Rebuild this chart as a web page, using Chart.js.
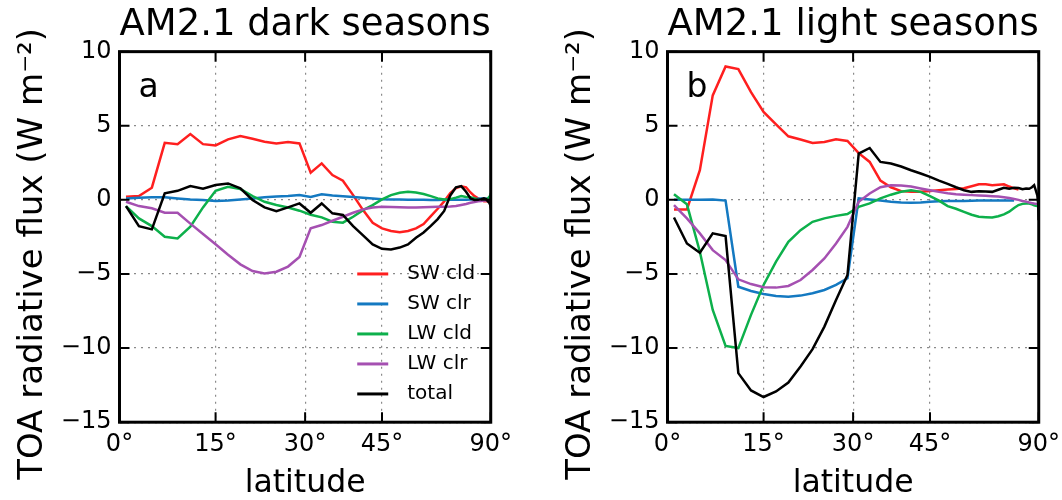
<!DOCTYPE html>
<html>
<head>
<meta charset="utf-8">
<script src="https://cdn.jsdelivr.net/npm/chart.js@4.4.1/dist/chart.umd.min.js"></script>
<style>
    html, body { margin: 0; padding: 0; background: #fff; overflow: hidden; }
    body { width: 1062px; height: 500px; position: relative; }
    .panel { position: absolute; top: 0; width: 520px; height: 500px; }
</style>
</head>
<body>
<div class="panel" style="left: 0px"><canvas id="grafica-oscuro"></canvas></div>
<div class="panel" style="left: 548px"><canvas id="grafica-claro"></canvas></div>
<script>
// Centros de latitud (rejilla de 2 grados)
const latitudes = [1, 3, 5, 7, 9, 11, 13, 15, 17, 19, 21, 23, 25, 27, 29, 31, 33, 35, 37, 39, 41, 43, 45,
    47, 49, 51, 53, 55, 57, 59, 61, 63, 65, 67, 69, 71, 73, 75, 77, 79, 81, 83, 85, 87, 89]

// Temporadas oscuras
const oscuroSWcld = [0.21, 0.26, 0.82, 3.85, 3.76, 4.44, 3.76, 3.67, 4.08, 4.3, 4.12, 3.92, 3.81, 3.9, 3.81,
    1.83, 2.46, 1.67, 1.29, 0.32, -0.69, -1.54, -1.92, -2.1, -2.19, -2.1, -1.92, -1.63, -1.1, -0.6,
    -0.1, 0.45, 0.8, 0.92, 0.85, 0.5, 0.25, 0.1, 0.0, -0.1, -0.1, -0.1, -0.1, -0.1, -0.2]
const oscuroSWclr = [0.1, 0.14, 0.17, 0.17, 0.1, 0.03, -0.01, -0.08, -0.05, 0.03, 0.1, 0.17, 0.22, 0.26, 0.32,
    0.2, 0.38, 0.3, 0.25, 0.2, 0.15, 0.1, 0.05, 0.03, 0.02, 0.0, 0.0, 0.0, -0.01, -0.01,
    0.0, 0.0, 0.0, 0.0, 0.0, 0.02, 0.05, 0.08, 0.1, 0.1, 0.08, 0.05, 0.05, 0.05, 0.05]
const oscuroLWcld = [-0.42, -1.25, -1.77, -2.49, -2.6, -1.81, -0.51, 0.61, 0.88, 0.73, 0.26, -0.13, -0.35, -0.51, -0.73,
    -1.0, -1.18, -1.47, -1.54, -1.14, -0.69, -0.35, 0.03, 0.32, 0.48, 0.55, 0.5, 0.4, 0.25, 0.1,
    0.03, 0.05, 0.15, 0.26, 0.2, 0.17, 0.1, 0.0, -0.05, 0.0, 0.05, 0.1, 0.2, 0.3, 0.45]
const oscuroLWclr = [-0.13, -0.42, -0.57, -0.87, -0.87, -1.6, -2.3, -3.0, -3.7, -4.35, -4.8, -4.96, -4.85, -4.5, -3.85,
    -1.92, -1.7, -1.41, -1.14, -0.87, -0.64, -0.51, -0.46, -0.48, -0.5, -0.51, -0.51, -0.5, -0.48, -0.47,
    -0.46, -0.45, -0.42, -0.35, -0.28, -0.2, -0.15, -0.1, -0.08, -0.05, -0.05, -0.05, -0.05, -0.1, -0.1]
const oscuroTotal = [-0.42, -1.77, -1.99, 0.44, 0.61, 0.93, 0.75, 1.0, 1.11, 0.78, -0.01, -0.51, -0.76, -0.51, -0.24,
    -0.87, -0.24, -0.91, -1.02, -1.77, -2.4, -3.0, -3.3, -3.34, -3.22, -3.0, -2.55, -2.2, -1.75, -1.3,
    -0.75, 0.3, 0.85, 0.93, 0.55, 0.1, -0.01, 0.0, 0.05, 0.1, 0.05, -0.1, -0.2, -0.35, -0.5]

// Temporadas claras
const claroSWcld = [-0.65, -0.65, 2.0, 7.05, 9.0, 8.82, 7.27, 5.93, 5.1, 4.29, 4.07, 3.84, 3.9, 4.09, 3.97,
    3.15, 2.56, 1.3, 0.85, 0.59, 0.55, 0.54, 0.6, 0.65, 0.7, 0.74, 0.78, 0.92, 1.05, 1.05,
    0.99, 1.02, 1.05, 0.9, 0.78, 0.7, null, null, null, null, null, null, null, null, null]
const claroSWclr = [0.0, 0.0, 0.0, 0.02, -0.05, -5.86, -6.15, -6.35, -6.48, -6.53, -6.46, -6.3, -6.08, -5.74, -5.29,
    0.1, 0.03, -0.05, -0.13, -0.18, -0.2, -0.18, -0.13, -0.1, -0.08, -0.07, -0.07, -0.06, -0.05, -0.05,
    -0.05, -0.05, -0.05, -0.05, -0.05, null, null, null, null, null, null, null, null, null, null]
const claroLWcld = [0.38, -0.3, -3.5, -7.43, -9.85, -10.0, -7.76, -5.74, -4.17, -2.83, -2.04, -1.48, -1.25, -1.08, -0.96,
    -0.47, -0.24, 0.1, 0.35, 0.55, 0.65, 0.54, 0.25, -0.05, -0.42, -0.6, -0.81, -1.0, -1.14, -1.17,
    -1.19, -1.1, -0.98, -0.8, -0.55, -0.35, -0.27, -0.24, -0.25, -0.3, -0.36, -0.4, -0.42, -0.45, -0.45]
const claroLWclr = [-0.36, -1.25, -2.26, -3.39, -4.06, -5.36, -5.68, -5.9, -5.92, -5.81, -5.41, -4.73, -3.95, -2.94, -1.82,
    -0.13, 0.43, 0.85, 0.98, 0.97, 0.9, 0.77, 0.65, 0.54, 0.45, 0.38, 0.35, 0.32, 0.3, 0.27,
    0.25, 0.22, 0.18, 0.12, 0.06, 0.0, -0.07, -0.12, -0.18, -0.22, -0.25, -0.27, -0.28, -0.29, -0.3]
const claroTotal = [-1.19, -2.94, -3.57, -2.26, -2.44, -11.69, -12.86, -13.3, -12.93, -12.32, -11.24, -10.07, -8.55, -6.75, -5.07,
    3.12, 3.5, 2.56, 2.45, 2.25, 2.0, 1.78, 1.55, 1.3, 1.08, 0.85, 0.65, 0.54, 0.58, 0.57,
    0.54, 0.68, 0.82, 0.75, 0.82, 0.8, 0.72, 0.77, 0.75, 0.85, 0.99, 0.6, 0.3, -0.3, -1.37]

const nombresSeries = ["SW cld", "SW clr", "LW cld", "LW clr", "total"]
const coloresSeries = ["#ff1f1f", "#1479c1", "#0db04b", "#a550b1", "#000000"]

// Ejes
const gradosX = [0, 15, 30, 45, 90]
const etiquetasX = ["0°", "15°", "30°", "45°", "90°"]
const ticksY = [-15, -10, -5, 0, 5, 10]
const etiquetasY = ["\u221215", "\u221210", "\u22125", "0", "5", "10"]
const tituloY = "TOA radiative flux (W m\u207B\u00B2)"

Chart.defaults.font.family = "'DejaVu Sans', sans-serif"
Chart.defaults.color = "#000"

// Marco, ticks hacia dentro, letra del panel, leyenda y título del eje y
const marco = {
    id: "marco",
    afterDatasetsDraw(chart, args, opciones) {
        const { ctx, chartArea: a, scales } = chart
        ctx.save()
        ctx.strokeStyle = "#000"
        ctx.lineWidth = 2
        ctx.beginPath()
        scales.x.ticks.forEach(t => {
            const px = scales.x.getPixelForValue(t.value)
            ctx.moveTo(px, a.bottom)
            ctx.lineTo(px, a.bottom - 10)
            ctx.moveTo(px, a.top)
            ctx.lineTo(px, a.top + 10)
        })
        scales.y.ticks.forEach(t => {
            const py = scales.y.getPixelForValue(t.value)
            ctx.moveTo(a.left, py)
            ctx.lineTo(a.left + 10, py)
            ctx.moveTo(a.right, py)
            ctx.lineTo(a.right - 10, py)
        })
        ctx.stroke()
        ctx.lineWidth = 3
        ctx.strokeRect(a.left, a.top, a.width, a.height)

        ctx.fillStyle = "#000"
        ctx.font = "33px 'DejaVu Sans'"
        ctx.textBaseline = "alphabetic"
        ctx.fillText(opciones.letra, a.left + 19, a.top + 45)

        // título del eje y, algo más abajo que el centro como en el original
        ctx.save()
        ctx.translate(33, (a.top + a.bottom) / 2 + 17)
        ctx.rotate(-Math.PI / 2)
        ctx.font = "34px 'DejaVu Sans'"
        ctx.textAlign = "center"
        ctx.textBaseline = "middle"
        ctx.fillText(tituloY, 0, 0)
        ctx.restore()

        if (opciones.leyenda) {
            const x0 = a.right - 133.5
            const y0 = a.top + 222.3
            ctx.font = "20px 'DejaVu Sans'"
            ctx.textBaseline = "middle"
            chart.data.datasets.forEach((d, i) => {
                const y = y0 + i * 30
                ctx.strokeStyle = d.borderColor
                ctx.lineWidth = 3
                ctx.beginPath()
                ctx.moveTo(x0, y)
                ctx.lineTo(x0 + 31, y)
                ctx.stroke()
                ctx.fillText(d.label, x0 + 50, y)
            })
        }
        ctx.restore()
    }
}

function graficaFlujo(id, titulo, letra, series, leyenda) {
    const datasets = series.map((serie, i) => ({
        label: nombresSeries[i],
        data: latitudes.map((lat, j) => ({ x: Math.sin(lat * Math.PI / 180), y: serie[j] })),
        borderColor: coloresSeries[i],
        backgroundColor: coloresSeries[i],
        borderWidth: 2.5,
        pointRadius: 0,
        tension: 0,
        order: series.length - i,
    }))

    const ctx = document.getElementById(id)
    new Chart(ctx, {
        type: "line",
        data: { datasets },
        plugins: [marco],
        options: {
            responsive: true,
            maintainAspectRatio: false,
            animation: false,
            devicePixelRatio: 1,
            layout: { padding: { left: 0, right: 26, top: 0, bottom: 0 } },
            plugins: {
                legend: { display: false },
                tooltip: { enabled: false },
                title: {
                    display: true,
                    text: titulo,
                    fullSize: false,
                    font: { size: 37.5, weight: "normal", lineHeight: 1.18 },
                    padding: { top: 3, bottom: 4.4 },
                },
                marco: { letra, leyenda },
            },
            scales: {
                x: {
                    type: "linear",
                    min: 0,
                    max: 1,
                    afterBuildTicks: eje => {
                        eje.ticks = gradosX.map(g => ({ value: Math.sin(g * Math.PI / 180) }))
                    },
                    afterFit: eje => { eje.height = 77.8 },
                    ticks: {
                        autoSkip: false,
                        maxRotation: 0,
                        font: { size: 24 },
                        padding: 8,
                        callback: (valor, i) => etiquetasX[i],
                    },
                    grid: { color: "#8a8a8a", lineWidth: 1.2, drawTicks: false },
                    border: { display: false, dash: [2, 5] },
                    title: { display: true, text: "latitude", font: { size: 31.5, lineHeight: 1.0 }, padding: { top: 0, bottom: 0 } },
                },
                y: {
                    min: -15,
                    max: 10,
                    afterBuildTicks: eje => {
                        eje.ticks = ticksY.map(v => ({ value: v }))
                    },
                    afterFit: eje => { eje.width = 119.5 },
                    ticks: {
                        font: { size: 24 },
                        padding: 8,
                        callback: (valor, i) => etiquetasY[i],
                    },
                    grid: { color: "#8a8a8a", lineWidth: 1.2, drawTicks: false },
                    border: { display: false, dash: [2, 5] },
                },
            },
        },
    })
}

graficaFlujo("grafica-oscuro", "AM2.1 dark seasons", "a",
    [oscuroSWcld, oscuroSWclr, oscuroLWcld, oscuroLWclr, oscuroTotal], true)
graficaFlujo("grafica-claro", "AM2.1 light seasons", "b",
    [claroSWcld, claroSWclr, claroLWcld, claroLWclr, claroTotal], false)
</script>
</body>
</html>
